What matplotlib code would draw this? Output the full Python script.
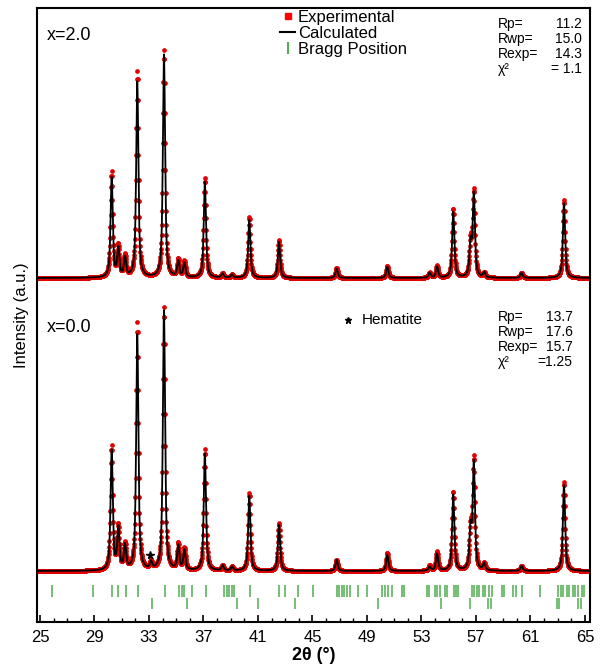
import matplotlib
matplotlib.use("Agg")
import matplotlib.pyplot as plt
from matplotlib.lines import Line2D
import numpy as np

plt.rcParams['font.family'] = ['Liberation Sans', 'DejaVu Sans']

# ===============================
# Data
# ===============================
peak_pos = [30.26, 30.75, 31.24, 32.14, 33.15, 34.10, 35.15, 35.60, 37.10, 38.40,
            39.10, 40.36, 42.54, 46.77, 50.49, 53.60, 54.14, 55.33, 56.60, 56.84,
            57.60, 60.35, 63.46]

# x = 2.0 sample
calc_top = [100, 28, 19, 196, 0, 223, 16, 14, 96, 4, 3, 58, 36, 9, 11, 5, 11, 66, 33, 83, 5, 5, 75]
obs_top = [105, 31, 21, 206, 0, 227, 18, 16, 100, 4, 3, 61, 38, 10, 12, 5, 12, 69, 36, 86, 5, 5, 78]

# x = 0.0 sample (hematite peak at 33.15)
calc_bot = [120, 41, 24, 236, 7, 260, 24, 20, 117, 5, 4, 75, 46, 11, 16, 4, 17, 76, 39, 107, 7, 5, 86]
obs_bot = [124, 43, 26, 248, 8, 263, 26, 22, 121, 5, 4, 78, 48, 11, 18, 5, 19, 79, 41, 111, 7, 5, 89]

bragg_main = [25.86, 28.91, 30.26, 30.75, 31.29, 32.17, 34.17, 35.22, 35.40, 35.57,
              36.13, 37.16, 38.50, 38.70, 38.86, 39.06, 39.24, 40.41, 42.56, 42.98,
              43.96, 45.06, 46.78, 46.97, 47.14, 47.33, 47.51, 47.75, 48.36, 48.98,
              50.08, 50.32, 50.56, 50.81, 51.55, 51.72, 53.38, 53.57, 53.99, 54.16,
              54.36, 54.72, 54.89, 55.39, 55.53, 55.70, 56.68, 56.85, 57.05, 57.24,
              57.49, 57.66, 57.98, 58.15, 58.89, 59.06, 59.74, 59.94, 60.35, 61.70,
              63.04, 63.22, 63.41, 63.66, 63.85, 64.10, 64.27, 64.51, 64.76, 64.93]
bragg_hem = [33.20, 35.77, 39.43, 41.02, 43.72, 49.83, 54.41, 56.56, 57.90, 58.08,
             62.92, 63.11, 64.51, 64.68]

stat_labels = ["Rp=", "Rwp=", "Rexp=", "χ²"]
stats_top = ["11.2", "15.0", "14.3", "= 1.1"]
stats_bot = ["13.7", "17.6", "15.7", "=1.25"]

base_top = 344
base_bot = 51
fwhm = 0.19
eta = 0.75
green = '#4fae4f'


def profile(tt, heights):
    y = np.zeros_like(tt)
    for p, h in zip(peak_pos, heights):
        d = (tt - p) / (fwhm / 2)
        lor = 1 / (1 + d ** 2)
        gau = np.exp(-np.log(2) * d ** 2)
        y += h * (eta * lor + (1 - eta) * gau)
    return y


tt = np.arange(24.8, 65.4, 0.01)
tt_obs = np.arange(24.8, 65.4, 0.02)

# ===============================
# Plotting
# ===============================
fig = plt.figure(figsize=(6.05, 6.7), dpi=100)
ax = fig.add_axes([37 / 605, 1 - 622 / 670, 553 / 605, 614 / 670])

for calc, obs, base in [(calc_top, obs_top, base_top), (calc_bot, obs_bot, base_bot)]:
    ax.plot(tt_obs, base + profile(tt_obs, obs), 'o', color='#e00000', ms=3.4, mew=0)
    ax.plot(tt, base + profile(tt, calc), '-', color='black', lw=1.3)

ax.vlines(bragg_main, 25, 37, color=green, lw=1.1)
ax.vlines(bragg_hem, 13, 24, color=green, lw=1.1)

# hematite mark
ax.plot(33.1, 67, '*', color='black', ms=5.5)
ax.plot(47.6, 302, '*', color='black', ms=5)
ax.text(48.6, 302, "Hematite", fontsize=11, va='center')

ax.text(25.5, 587, "x=2.0", fontsize=13, va='center')
ax.text(25.5, 294, "x=0.0", fontsize=13, va='center')

for i, (lab, val) in enumerate(zip(stat_labels, stats_top)):
    y = 598 - i * 15
    ax.text(58.6, y, lab, fontsize=10, va='center')
    ax.text(64.8, y, val, fontsize=10, va='center', ha='right')
for i, (lab, val) in enumerate(zip(stat_labels, stats_bot)):
    y = 305 - i * 15
    ax.text(58.6, y, lab, fontsize=10, va='center')
    ax.text(64.1, y, val, fontsize=10, va='center', ha='right')

handles = [Line2D([], [], marker='s', color='red', ls='none', ms=4),
           Line2D([], [], color='black', lw=1.5),
           Line2D([], [], marker='|', color=green, ls='none', ms=8, mew=1.5)]
ax.legend(handles, ["Experimental", "Calculated", "Bragg Position"],
          loc='upper left', bbox_to_anchor=(0.44, 0.997), frameon=False,
          fontsize=12, handlelength=0.9, handletextpad=0.15, labelspacing=0.05,
          borderpad=0, borderaxespad=0)

ax.set_xlim(24.78, 65.37)
ax.set_ylim(0, 614)
ax.set_xticks(np.arange(25, 66, 4))
ax.set_xticks(np.arange(25, 66, 1), minor=True)
ax.set_yticks([])
ax.tick_params(axis='x', which='major', direction='in', length=5, width=1.2, labelsize=12, pad=6)
ax.tick_params(axis='x', which='minor', direction='in', length=3, width=1.0)
for s in ax.spines.values():
    s.set_linewidth(1.5)

ax.set_xlabel("2θ (°)", fontsize=13, fontweight='bold', labelpad=1)
ax.set_ylabel("Intensity (a.u.)", fontsize=12, labelpad=6)

fig.savefig("out.png", dpi=100)
